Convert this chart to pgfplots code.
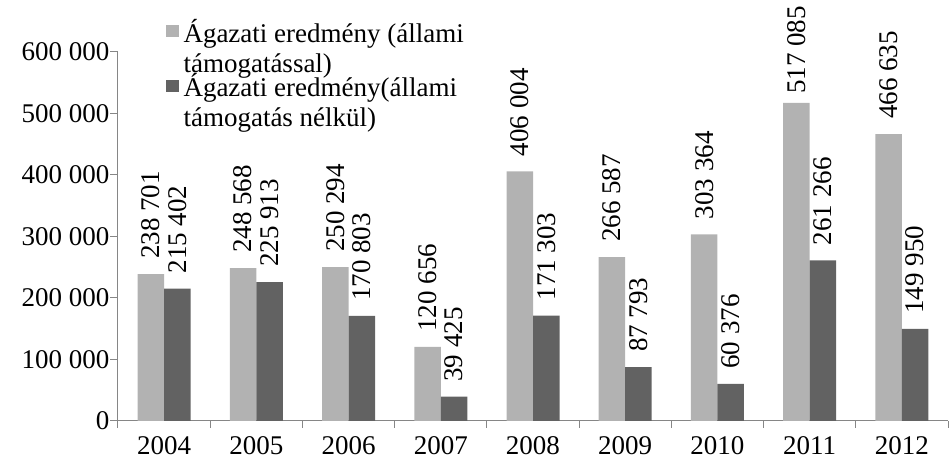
\documentclass[border=0pt]{standalone}
\usepackage{pgfplots}
\pgfplotsset{compat=1.18}
\usepackage{fontspec}
\setmainfont{Liberation Serif}
\definecolor{lightbar}{HTML}{B2B2B2}
\definecolor{darkbar}{HTML}{626262}
\definecolor{axisgray}{HTML}{868686}
\pgfplotstableread{
x y off
0 238701 15
1 248568 15
2 250294 15
3 120656 15
4 406004 15
5 266587 15
6 303364 15
7 517085 9
8 466635 15
}\withsupport
\pgfplotstableread{
x y off
0 215402 15
1 225913 15
2 170803 15
3 39425 15
4 171303 15
5 87793 15
6 60376 15
7 261266 15
8 149950 15
}\withoutsupport
\begin{document}
\begin{tikzpicture}[font=\fontsize{27}{29.5}\selectfont]
\useasboundingbox (0,0) rectangle (950pt,462pt);
\begin{axis}[
  at={(118pt,41pt)}, anchor=south west,
  scale only axis, width=830pt, height=369pt,
  ymin=0, ymax=600000, xmin=-0.5, xmax=8.5,
  ybar=0pt, bar width=26.5pt,
  axis x line=bottom, axis y line=left,
  axis line style={axisgray, line width=1pt, -},
  xtick={0,...,8}, xticklabels={2004,2005,2006,2007,2008,2009,2010,2011,2012},
  major x tick style={draw=none},
  minor xtick={-0.5,0.5,...,8.5},
  ytick={0,100000,...,600000},
  tick align=outside, major tick length=8pt, minor tick length=7pt,
  every tick/.style={axisgray, line width=1pt},
  minor tick style={axisgray, line width=1pt},
  xticklabel style={yshift=-6pt, inner ysep=1pt},
  yticklabel style={xshift=3pt},
  /pgf/number format/.cd, fixed, precision=0, 1000 sep={\ }, assume math mode=true,
  /pgfplots/.cd,
  scaled y ticks=false,
  clip=false,
  nodes near coords,
  visualization depends on={\thisrow{off} \as \labeloff},
  every node near coord/.append style={rotate=90, anchor=west, inner xsep=\labeloff pt, inner ysep=1pt, text=black, font=\fontsize{27}{30}\selectfont},
  legend style={at={(0.057,1.089)}, anchor=north west, draw=none, fill=none,
    row sep=0pt, inner sep=0pt,
    nodes={inner sep=0pt, align=left, font=\fontsize{27}{29.5}\selectfont}},
  legend cell align=left,
  legend image code/.code={\fill[#1] (0pt,9pt) rectangle (13pt,21pt);},
]
\addplot[fill=lightbar, draw=none] table[x=x, y=y] {\withsupport};
\addplot[fill=darkbar, draw=none] table[x=x, y=y] {\withoutsupport};
\addlegendentry{\hspace{5pt}Ágazati eredmény (állami\\\hspace{5pt}támogatással)}
\addlegendentry{\hspace{5pt}Ágazati eredmény(állami\\\hspace{5pt}támogatás nélkül)}
\end{axis}
\end{tikzpicture}
\end{document}
